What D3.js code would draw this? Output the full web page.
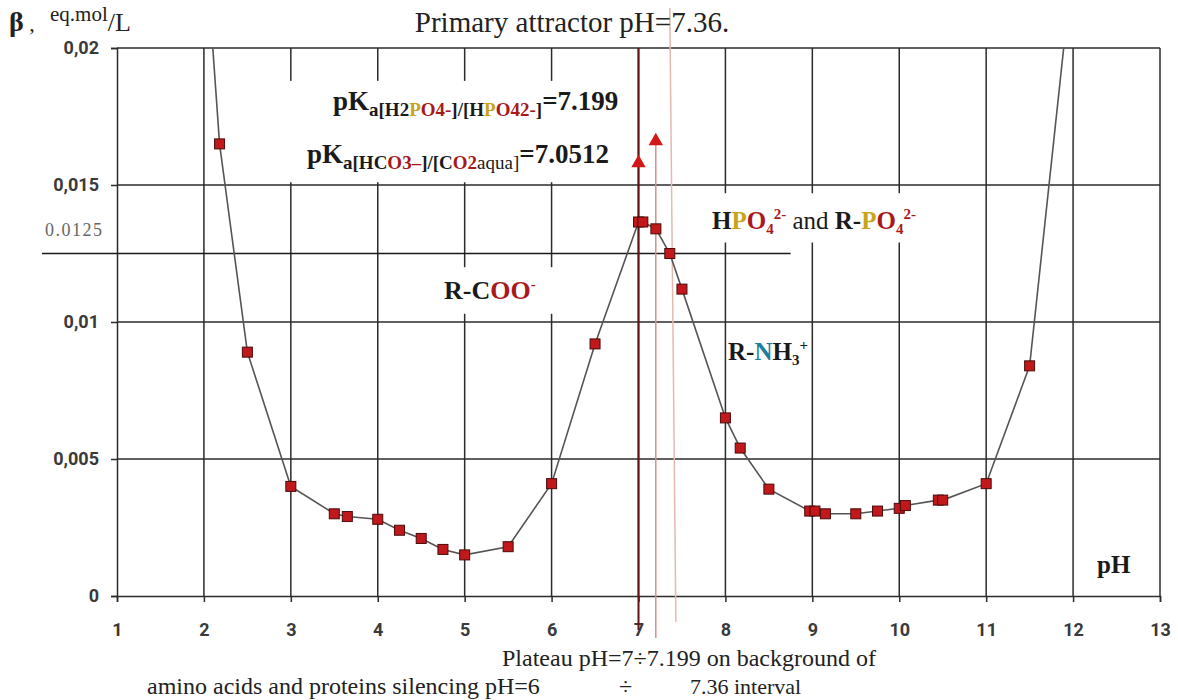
<!DOCTYPE html>
<html>
<head>
<meta charset="utf-8">
<script src="https://cdn.jsdelivr.net/npm/d3@7"></script>
<style>
  body { margin: 0; background: #fff; }
  svg { display: block; }
  .serif { font-family: "Liberation Serif", "Times New Roman", serif; }
  .tick text { font-family: "Liberation Sans Narrow", "Roboto", sans-serif; font-weight: bold; font-size: 18px; fill: #3a3a3a; }
</style>
</head>
<body>
<div id="chart"></div>
<script>
// pH points and buffer capacity beta (eq.mol/L)
const phValues = [2.0, 2.18, 2.5, 3, 3.5, 3.65, 4, 4.25, 4.5, 4.75, 5, 5.5, 6, 6.5,
  7, 7.05, 7.2, 7.36, 7.5, 8, 8.17, 8.5, 8.97, 9.03, 9.15, 9.5, 9.75, 10, 10.07,
  10.45, 10.5, 11, 11.5, 12];
const betaValues = [0.0246, 0.0165, 0.0089, 0.0040, 0.0030, 0.0029, 0.0028, 0.0024, 0.0021, 0.0017, 0.0015, 0.0018, 0.0041, 0.0092,
  0.01365, 0.01365, 0.0134, 0.0125, 0.0112, 0.0065, 0.0054, 0.0039, 0.0031, 0.0031, 0.0030, 0.0030, 0.0031, 0.0032, 0.0033,
  0.0035, 0.0035, 0.0041, 0.0084, 0.0232];

const xTicks = [1, 2, 3, 4, 5, 6, 7, 8, 9, 10, 11, 12, 13];
const yTicks = [0, 0.005, 0.01, 0.015, 0.02];
const yTickLabels = ['0', '0,005', '0,01', '0,015', '0,02'];

const thresholdBeta = 0.0125;
const pkaCarbonate = 7.0;     // marker line drawn at pH 7
const pkaPhosphate = 7.199;
const attractorPh = 7.36;
const triangleBeta = [0.0158, 0.0166];

const width = 1178, height = 700;
const svg = d3.select('#chart').append('svg')
  .attr('width', width)
  .attr('height', height);

const x = d3.scaleLinear().domain([1, 13]).range([117, 1160]);
const y = d3.scaleLinear().domain([0, 0.02]).range([596, 48]);

const gridColor = '#2b2b2b';

// grid
svg.append('g')
  .selectAll('line')
  .data(xTicks.slice(1))
  .join('line')
  .attr('x1', d => x(d)).attr('x2', d => x(d))
  .attr('y1', y(0.02)).attr('y2', y(0))
  .attr('stroke', gridColor).attr('stroke-width', 1.5);

svg.append('g')
  .selectAll('line')
  .data(yTicks.slice(1))
  .join('line')
  .attr('x1', x(1)).attr('x2', x(13))
  .attr('y1', d => y(d)).attr('y2', d => y(d))
  .attr('stroke', gridColor).attr('stroke-width', 1.5);

// axes
const xAxis = svg.append('g')
  .attr('transform', `translate(0,${y(0)})`)
  .call(d3.axisBottom(x).tickValues(xTicks).tickSize(6).tickPadding(21).tickFormat(d3.format('d')));
xAxis.select('.domain').attr('stroke', gridColor).attr('stroke-width', 1.5);
xAxis.selectAll('.tick line').attr('stroke', gridColor).attr('stroke-width', 1.5);

const yAxis = svg.append('g')
  .attr('transform', `translate(${x(1)},0)`)
  .call(d3.axisLeft(y).tickValues(yTicks).tickSize(6).tickPadding(12).tickFormat((d, i) => yTickLabels[i]));
yAxis.select('.domain').attr('stroke', gridColor).attr('stroke-width', 1.5);
yAxis.selectAll('.tick line').attr('stroke', gridColor).attr('stroke-width', 1.5);

// white boxes behind the annotations
const boxes = [
  { x0: 2.92, x1: 6.9, y0: 0.0188, y1: 0.0151 },
  { x0: 4.8, x1: 6.1, y0: 0.0120, y1: 0.0103 },
  { x0: 7.7, x1: 10.5, y0: 0.0147, y1: 0.0129 }
];
svg.append('g')
  .selectAll('rect')
  .data(boxes)
  .join('rect')
  .attr('x', d => x(d.x0)).attr('y', d => y(d.y0))
  .attr('width', d => x(d.x1) - x(d.x0))
  .attr('height', d => y(d.y1) - y(d.y0))
  .attr('fill', '#fff');

// threshold 0.0125
svg.append('line')
  .attr('x1', 42).attr('x2', x(8.75))
  .attr('y1', y(thresholdBeta)).attr('y2', y(thresholdBeta))
  .attr('stroke', '#1a1a1a').attr('stroke-width', 1.5);
svg.append('text')
  .attr('class', 'serif')
  .attr('x', 45).attr('y', y(thresholdBeta) - 18)
  .attr('font-size', 18).attr('fill', '#666')
  .attr('letter-spacing', 1.5)
  .text('0.0125');

// vertical pH markers
svg.append('line')
  .attr('x1', x(attractorPh)).attr('x2', x(attractorPh + 0.07))
  .attr('y1', 8).attr('y2', y(0) + 26)
  .attr('stroke', '#e3b9b0').attr('stroke-width', 1.5);
svg.append('line')
  .attr('x1', x(pkaPhosphate)).attr('x2', x(pkaPhosphate))
  .attr('y1', y(triangleBeta[1])).attr('y2', y(0) + 42)
  .attr('stroke', '#d98f8a').attr('stroke-width', 1.5);
svg.append('line')
  .attr('x1', x(pkaCarbonate)).attr('x2', x(pkaCarbonate))
  .attr('y1', y(0.02)).attr('y2', y(0) + 34)
  .attr('stroke', '#5e1414').attr('stroke-width', 2);

// data line
svg.append('clipPath').attr('id', 'plotClip')
  .append('rect')
  .attr('x', x(1)).attr('y', y(0.02))
  .attr('width', x(13) - x(1)).attr('height', y(0) - y(0.02));

const points = phValues.map((p, i) => ({ ph: p, beta: betaValues[i] }));

svg.append('path')
  .datum(points)
  .attr('clip-path', 'url(#plotClip)')
  .attr('fill', 'none')
  .attr('stroke', '#555')
  .attr('stroke-width', 1.6)
  .attr('d', d3.line().x(d => x(d.ph)).y(d => y(d.beta)));

svg.append('g')
  .attr('clip-path', 'url(#plotClip)')
  .selectAll('rect')
  .data(points)
  .join('rect')
  .attr('x', d => x(d.ph) - 5).attr('y', d => y(d.beta) - 5)
  .attr('width', 10).attr('height', 10)
  .attr('fill', '#c0181b')
  .attr('stroke', '#4a0a0a').attr('stroke-width', 1);

// triangles
svg.append('g')
  .selectAll('path')
  .data([pkaCarbonate, pkaPhosphate])
  .join('path')
  .attr('transform', (d, i) => `translate(${x(d)},${y(triangleBeta[i])})`)
  .attr('d', d3.symbol().type(d3.symbolTriangle).size(90))
  .attr('fill', '#d01818');

// title and labels
svg.append('text')
  .attr('class', 'serif')
  .attr('x', 572).attr('y', 32)
  .attr('text-anchor', 'middle')
  .attr('font-size', 29).attr('fill', '#222')
  .text('Primary attractor pH=7.36.');

const yLab = svg.append('text').attr('class', 'serif').attr('x', 9).attr('y', 31).attr('fill', '#222');
yLab.append('tspan').attr('font-size', 28).attr('font-weight', 'bold').text('β');
yLab.append('tspan').attr('font-size', 22).text(' ,');
yLab.append('tspan').attr('x', 50).attr('font-size', 21).attr('dy', -10).text('eq.mol');
yLab.append('tspan').attr('font-size', 26).attr('dy', 10).text('/L');

const gold = '#c8a41c', red = '#a8191c', teal = '#1f7fa0', ink = '#1a1a1a';

function richText(px, py, size, parts) {
  const t = svg.append('text').attr('class', 'serif')
    .attr('x', px).attr('y', py)
    .attr('font-size', size).attr('font-weight', 'bold').attr('fill', ink);
  let shift = 0;
  parts.forEach(p => {
    const s = t.append('tspan').text(p.t);
    if (p.c) s.attr('fill', p.c);
    if (p.size) s.attr('font-size', p.size);
    if (p.w) s.attr('font-weight', p.w);
    const target = p.dy || 0;
    s.attr('dy', target - shift);
    shift = target;
  });
  return t;
}

const sub = 19;
richText(333, 110, 27, [
  { t: 'pK' },
  { t: 'a[H2', size: sub, dy: 6 },
  { t: 'P', size: sub, dy: 6, c: gold },
  { t: 'O4-', size: sub, dy: 6, c: red },
  { t: ']/[H', size: sub, dy: 6 },
  { t: 'P', size: sub, dy: 6, c: gold },
  { t: 'O42-', size: sub, dy: 6, c: red },
  { t: ']', size: sub, dy: 6 },
  { t: '=7.199', dy: 0 }
]);

richText(307, 163, 27, [
  { t: 'pK' },
  { t: 'a[HC', size: sub, dy: 6 },
  { t: 'O3–', size: sub, dy: 6, c: red },
  { t: ']/[C', size: sub, dy: 6 },
  { t: 'O2', size: sub, dy: 6, c: red },
  { t: 'aqua]', size: sub, dy: 6, w: 'normal' },
  { t: '=7.0512', dy: 0 }
]);

richText(712, 229, 25, [
  { t: 'H' },
  { t: 'P', c: gold },
  { t: 'O', c: red },
  { t: '4', c: red, size: 15, dy: 5 },
  { t: '2-', c: red, size: 15, dy: -10 },
  { t: ' and ', w: 'normal', dy: 0 },
  { t: 'R-' },
  { t: 'P', c: gold },
  { t: 'O', c: red },
  { t: '4', c: red, size: 15, dy: 5 },
  { t: '2-', c: red, size: 15, dy: -10 }
]);

richText(444, 299, 26, [
  { t: 'R-C' },
  { t: 'OO', c: red },
  { t: '-', c: red, size: 15, dy: -10 }
]);

richText(728, 360, 25, [
  { t: 'R-' },
  { t: 'N', c: teal },
  { t: 'H' },
  { t: '3', size: 15, dy: 5 },
  { t: '+', size: 15, dy: -10 }
]);

svg.append('text')
  .attr('class', 'serif')
  .attr('x', 1097).attr('y', 573)
  .attr('font-size', 25).attr('font-weight', 'bold').attr('fill', ink)
  .text('pH');

svg.append('text')
  .attr('class', 'serif')
  .attr('x', 502).attr('y', 666)
  .attr('font-size', 24).attr('fill', '#222')
  .text('Plateau pH=7÷7.199 on background of');

const bottom = svg.append('text')
  .attr('class', 'serif')
  .attr('y', 694)
  .attr('font-size', 24).attr('fill', '#222');
bottom.append('tspan').attr('x', 147).text('amino acids and proteins silencing pH=6');
bottom.append('tspan').attr('x', 619).text('÷');
bottom.append('tspan').attr('x', 690).attr('font-size', 22).text('7.36 interval');
</script>
</body>
</html>
